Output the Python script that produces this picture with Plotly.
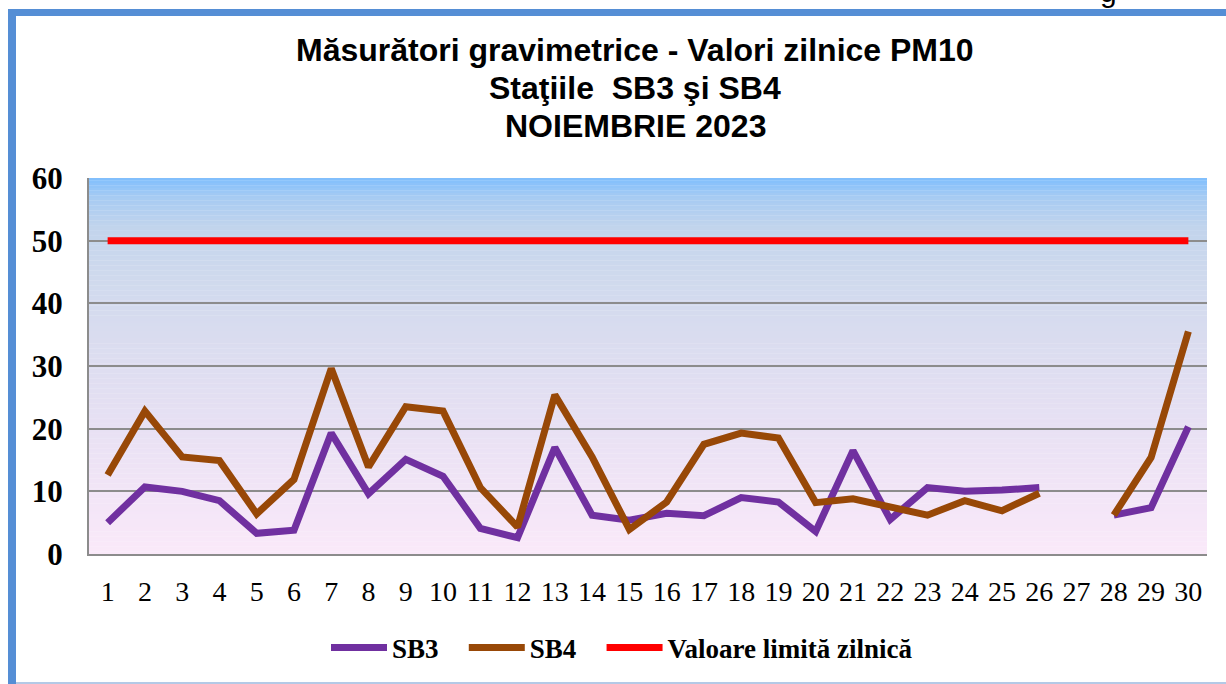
import plotly.graph_objects as go

# ---------------- data ----------------
days = list(range(1, 31))
day_labels = [str(d) for d in days]
sb3 = [5.0, 10.7, 10.0, 8.5, 3.3, 3.8, 19.3, 9.6, 15.1, 12.4,
       4.1, 2.6, 17.0, 6.2, 5.4, 6.5, 6.1, 9.0, 8.3, 3.6,
       16.5, 5.5, 10.6, 10.0, 10.2, 10.6, None, 6.2, 7.4, 20.3]
sb4 = [12.6, 22.8, 15.5, 14.9, 6.4, 11.9, 29.6, 13.9, 23.5, 22.8,
       10.6, 4.3, 25.4, 15.5, 3.9, 8.3, 17.5, 19.3, 18.5, 8.2,
       8.8, 7.5, 6.2, 8.5, 6.9, 9.7, None, 6.2, 15.4, 35.5]
limit = [50] * 30
y_ticks = [0, 10, 20, 30, 40, 50, 60]
series_names = ["SB3", "SB4", "Valoare limită zilnică"]

title_lines = ["Măsurători gravimetrice - Valori zilnice PM10",
               "Staţiile\u00a0 SB3 şi SB4",
               "NOIEMBRIE 2023"]

# ---------------- layout geometry ----------------
W, H = 1226, 684
L, R, T, B = 89, 1207, 178, 554


def px(x):
    return (x - L) / (R - L)


def py(y):
    return (B - y) / (B - T)


def hex2rgb(h):
    h = h.lstrip('#')
    return tuple(int(h[i:i + 2], 16) for i in (0, 2, 4))


# background gradient stops (value, colour)
stops = [(60, '#7FBEFD'), (57, '#A6CBF3'), (52, '#C2D4EC'), (45, '#CED9ED'),
         (35, '#D9DCEF'), (25, '#E3DFF2'), (15, '#EDE3F5'), (5, '#F6E7F8'),
         (0, '#FAE9F9')]


def colour_at(v):
    for (v1, c1), (v2, c2) in zip(stops[:-1], stops[1:]):
        if v2 <= v <= v1:
            t = (v1 - v) / (v1 - v2) if v1 != v2 else 0
            a, b = hex2rgb(c1), hex2rgb(c2)
            return 'rgb(%d,%d,%d)' % tuple(round(a[i] + (b[i] - a[i]) * t) for i in range(3))
    return stops[-1][1]


shapes = []
n = 150
for i in range(n):
    y0 = 60 * i / n
    y1 = 60 * (i + 1) / n
    shapes.append(dict(type='rect', xref='x domain', yref='y', x0=0, x1=1,
                       y0=y0, y1=y1 + 0.05, fillcolor=colour_at((y0 + y1) / 2),
                       line=dict(width=0), layer='below'))

frame_blue = '#558ED5'
# top blue bar
shapes.append(dict(type='rect', xref='paper', yref='paper', x0=px(8), x1=px(1226),
                   y0=py(16), y1=py(9), fillcolor=frame_blue, line=dict(width=0)))
# left blue bar
shapes.append(dict(type='rect', xref='paper', yref='paper', x0=px(8), x1=px(16),
                   y0=py(684), y1=py(9), fillcolor=frame_blue, line=dict(width=0)))
# bottom light line
shapes.append(dict(type='rect', xref='paper', yref='paper', x0=px(16), x1=px(1226),
                   y0=py(684), y1=py(682), fillcolor='#B4C9E6', line=dict(width=0)))

pad = '\u00a0\u00a0\u00a0'
fig = go.Figure()
fig.add_trace(go.Scatter(x=days, y=sb3, mode='lines', name=series_names[0] + pad,
                         line=dict(color='#7030A0', width=7), connectgaps=False))
fig.add_trace(go.Scatter(x=days, y=sb4, mode='lines', name=series_names[1] + pad,
                         line=dict(color='#984807', width=7), connectgaps=False))
fig.add_trace(go.Scatter(x=days, y=limit, mode='lines', name=series_names[2],
                         line=dict(color='#FF0000', width=7)))

annotations = []
title_y = [49.5, 87.5, 125.5]
for txt, yy in zip(title_lines, title_y):
    annotations.append(dict(text=txt, xref='paper', yref='paper', x=px(635), y=py(yy),
                            xanchor='center', yanchor='middle', showarrow=False,
                            font=dict(family='Liberation Sans, Arial, sans-serif',
                                      size=32, color='black', weight='bold')))
annotations.append(dict(text='g', xref='paper', yref='paper', x=px(1108), y=py(10),
                        xanchor='center', yanchor='bottom', showarrow=False,
                        font=dict(family='Liberation Sans, Arial, sans-serif',
                                  size=30, color='black')))

fig.update_layout(
    width=W, height=H,
    margin=dict(l=L, r=W - R, t=T, b=H - B, pad=0),
    paper_bgcolor='white',
    plot_bgcolor='rgba(0,0,0,0)',
    shapes=shapes,
    annotations=annotations,
    showlegend=True,
    legend=dict(orientation='h', x=px(326), xanchor='left', y=py(648), yanchor='middle',
                font=dict(family='Liberation Serif, Times New Roman, serif', size=27,
                          color='black', weight='bold'),
                bgcolor='rgba(0,0,0,0)', itemwidth=56),
    xaxis=dict(range=[0.5, 30.5], tickmode='array', tickvals=days, ticktext=day_labels,
               showgrid=False, zeroline=False, showline=True, linecolor='#8C8C8C',
               linewidth=2, ticks='', ticklabelstandoff=11,
               tickfont=dict(family='Liberation Serif, Times New Roman, serif',
                             size=28, color='black')),
    yaxis=dict(range=[0, 60], tickmode='array', tickvals=y_ticks,
               ticktext=[str(v) for v in y_ticks],
               showgrid=True, gridcolor='#8C8C8C', gridwidth=2, zeroline=False,
               showline=True, linecolor='#8C8C8C', linewidth=2, ticks='',
               ticklabelstandoff=18,
               tickfont=dict(family='Liberation Serif, Times New Roman, serif',
                             size=31, color='black', weight='bold')),
)

fig.write_html('out.html', config={'displayModeBar': False},
               post_script="document.body.style.margin='0px';")
